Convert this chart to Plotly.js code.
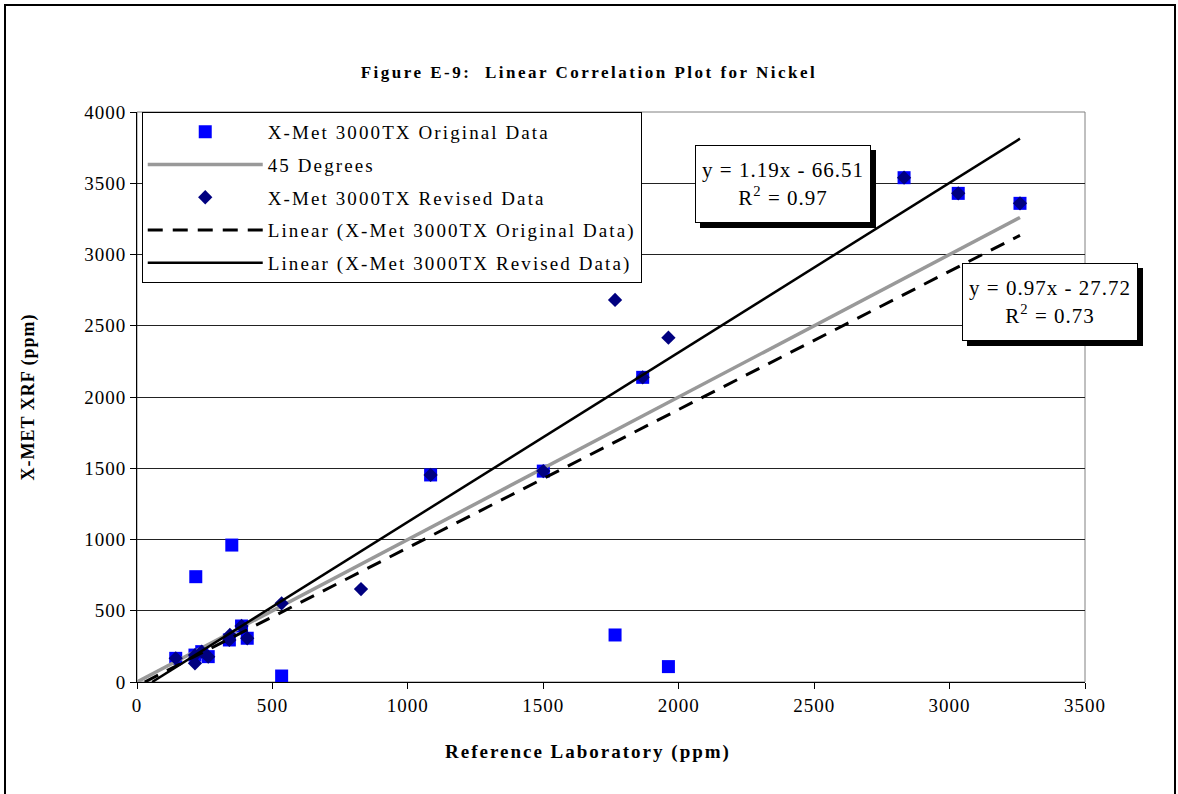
<!DOCTYPE html>
<html>
<head>
<meta charset="utf-8">
<script src="https://cdn.plot.ly/plotly-3.0.1.min.js"></script>
<style>
  html, body { margin: 0; padding: 0; background: #fff; overflow: hidden; }
  #chart { position: absolute; left: 0; top: 0; width: 1178px; height: 794px; }
  #frame { position: absolute; left: 4px; top: 4px; width: 1168px; height: 820px; border: 2px solid #000; pointer-events: none; }
  .gtitle { letter-spacing: 2.5px; }
  .ytitle { letter-spacing: 1px; }
  .xlab-ann .annotation-text { letter-spacing: 2px; }
  .xtick text, .ytick text { letter-spacing: 1px; }
  .legendtext { letter-spacing: 2.1px; }
  .annotation-text { letter-spacing: 1px; }
</style>
</head>
<body>
<div id="chart"></div>
<div id="frame"></div>
<script>
// ---- Data ----
const origX = [143, 214, 217, 239, 263, 341, 350, 386, 407, 534, 1084, 1500, 1765, 1867, 1962, 2832, 3032, 3260];
const origY = [166, 189, 739, 213, 178, 295, 961, 393, 307, 42, 1453, 1480, 330, 2138, 108, 3539, 3429, 3359];

const revX = [143, 214, 214, 239, 263, 341, 343, 386, 407, 534, 827, 1084, 1500, 1765, 1867, 1962, 2832, 3032, 3260];
const revY = [166, 131, 189, 213, 178, 295, 330, 393, 307, 552, 652, 1453, 1480, 2681, 2138, 2416, 3539, 3429, 3359];

// Trendline coefficients as printed on the chart
const origSlope = 0.97, origIntercept = -27.72, origR2 = 0.73;
const revSlope = 1.19, revIntercept = -66.51, revR2 = 0.97;

const seriesNames = [
  'X-Met 3000TX Original Data',
  '45 Degrees',
  'X-Met 3000TX Revised Data',
  'Linear (X-Met 3000TX Original Data)',
  'Linear (X-Met 3000TX Revised Data)'
];

const titleText = 'Figure E-9:  Linear Correlation Plot for Nickel';
const xTitle = 'Reference Laboratory (ppm)';
const yTitle = 'X-MET XRF (ppm)';

// ---- Derived lines ----
const xMax = Math.max(...origX, ...revX);
function trend(m, b) {
  const x0 = Math.max(0, -b / m);   // start where line meets y = 0
  return { x: [x0, xMax], y: [m * x0 + b, m * xMax + b] };
}
const tOrig = trend(origSlope, origIntercept);
const tRev = trend(revSlope, revIntercept);

const serif = 'Liberation Serif, Times New Roman, serif';

const traces = [
  { x: origX, y: origY, type: 'scatter', mode: 'markers', name: seriesNames[0], legendgroup: 'g0',
    marker: { symbol: 'square', size: 13, color: '#0000FF' } },
  { x: [0, xMax], y: [0, xMax], type: 'scatter', mode: 'lines', name: seriesNames[1], legendgroup: 'g1',
    line: { color: '#999999', width: 3.5 } },
  { x: revX, y: revY, type: 'scatter', mode: 'markers', name: seriesNames[2], legendgroup: 'g2',
    marker: { symbol: 'diamond', size: 11, color: '#000080' } },
  { x: tOrig.x, y: tOrig.y, type: 'scatter', mode: 'lines', name: seriesNames[3], legendgroup: 'g3',
    line: { color: '#000000', width: 3, dash: '15px,10px' } },
  { x: tRev.x, y: tRev.y, type: 'scatter', mode: 'lines', name: seriesNames[4], legendgroup: 'g4',
    line: { color: '#000000', width: 2.5 } }
];

function eqText(m, b, r2) {
  const sign = b < 0 ? ' - ' : ' + ';
  return 'y = ' + m.toFixed(2) + 'x' + sign + Math.abs(b).toFixed(2) + '<br>R<sup>2</sup> = ' + r2.toFixed(2);
}

function boxAnn(text, x, y, shadow) {
  return {
    text: text, xref: 'paper', yref: 'paper', x: x, y: y,
    xanchor: 'center', yanchor: 'middle', showarrow: false,
    width: 166, height: 68, align: 'center', valign: 'middle',
    font: { family: serif, size: 21, color: '#000' },
    bgcolor: shadow ? '#000' : '#fff', bordercolor: '#000', borderwidth: 1, borderpad: 4,
    xshift: shadow ? 5 : 0, yshift: shadow ? -5 : 0
  };
}

const ann1 = eqText(revSlope, revIntercept, revR2);
const ann2 = eqText(origSlope, origIntercept, origR2);

const layout = {
  width: 1178, height: 794,
  margin: { l: 137, r: 93, t: 112, b: 112 },
  paper_bgcolor: '#fff', plot_bgcolor: '#fff',
  font: { family: serif, size: 18, color: '#000' },
  showlegend: true,
  title: { text: '<b>' + titleText + '</b>', font: { family: serif, size: 17, color: '#000' },
    x: 0.5, xref: 'container', xanchor: 'center', y: 1 - 72 / 794, yref: 'container', yanchor: 'middle' },
  xaxis: {
    range: [0, 3500], dtick: 500, tick0: 0,
    showgrid: false, zeroline: false,
    showline: true, linecolor: '#000', linewidth: 1,
    ticks: 'outside', ticklen: 6, tickcolor: '#000',
    tickfont: { family: serif, size: 19, color: '#000' }
  },
  yaxis: {
    range: [0, 4000], dtick: 500, tick0: 0,
    showgrid: true, gridcolor: '#222', gridwidth: 1, zeroline: false,
    showline: true, linecolor: '#000', linewidth: 1,
    ticks: 'outside', ticklen: 6, tickcolor: '#000',
    tickfont: { family: serif, size: 19, color: '#000' },
    title: { text: '<b>' + yTitle + '</b>', font: { family: serif, size: 18, color: '#000' }, standoff: 44 }
  },
  legend: {
    x: 0.005, y: 1, xanchor: 'left', yanchor: 'top',
    bgcolor: '#fff', bordercolor: '#000', borderwidth: 1,
    font: { family: serif, size: 19, color: '#000' },
    traceorder: 'grouped', tracegroupgap: 5, itemwidth: 115
  },
  shapes: [
    { type: 'rect', xref: 'paper', yref: 'paper', x0: 0, y0: 0, x1: 1, y1: 1,
      line: { color: '#808080', width: 1 }, layer: 'below' }
  ],
  annotations: [
    boxAnn(ann1, 0.681, 0.873, true),
    boxAnn(ann1, 0.681, 0.873, false),
    boxAnn(ann2, 0.963, 0.666, true),
    boxAnn(ann2, 0.963, 0.666, false),
    { text: '<b>' + xTitle + '</b>', xref: 'paper', yref: 'paper', x: 0.476, y: -0.1228,
      xanchor: 'center', yanchor: 'middle', showarrow: false,
      font: { family: serif, size: 19, color: '#000' } }
  ]
};

Plotly.newPlot('chart', traces, layout, { displayModeBar: false, staticPlot: true }).then(function () {
  // tag the x-axis title annotation for slightly wider spacing
  const anns = document.querySelectorAll('#chart .annotation');
  if (anns.length) anns[anns.length - 1].classList.add('xlab-ann');
});
</script>
</body>
</html>
